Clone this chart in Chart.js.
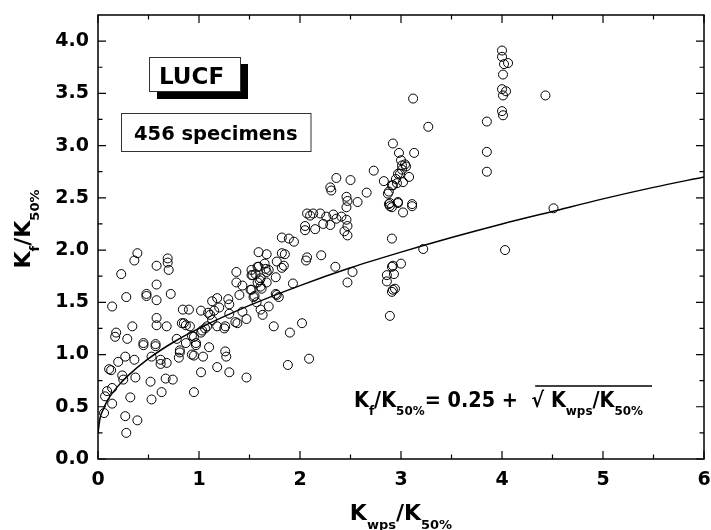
<!DOCTYPE html>
<html>
<head>
<meta charset="utf-8">
<script src="https://cdn.jsdelivr.net/npm/chart.js@4.4.0/dist/chart.umd.min.js"></script>
<style>
    html, body { margin: 0; padding: 0; background: #fff; }
    #wrap { width: 711px; height: 530px; }
</style>
</head>
<body>
<div id="wrap"><canvas id="kfChart" width="711" height="530"></canvas></div>
<script>
// specimen points [Kwps/K50%, Kf/K50%], grouped by x range
const lowRange = [
    [0.06,0.44],[0.07,0.60],[0.09,0.65],[0.14,0.68],[0.14,0.53],[0.11,0.86],[0.13,0.85],[0.20,0.93],
    [0.24,0.80],[0.25,0.76],[0.27,0.98],[0.36,0.95],[0.37,0.78],[0.32,0.59],[0.27,0.41],[0.39,0.37],
    [0.28,0.25],[0.14,1.46],[0.23,1.77],[0.36,1.90],[0.39,1.97],[0.28,1.55],[0.18,1.21],[0.17,1.17],
    [0.29,1.15],[0.34,1.27],[0.45,1.11],[0.45,1.09],[0.48,1.58],[0.48,1.56],[0.58,1.85],[0.69,1.92],
    [0.69,1.88],[0.70,1.81],[0.58,1.67],[0.58,1.52],[0.72,1.58],[0.58,1.35],[0.58,1.28],[0.68,1.27],
    [0.57,1.10],[0.57,1.08],[0.53,0.98],[0.62,0.95],[0.62,0.91],[0.68,0.92],[0.52,0.74],[0.67,0.77],
    [0.74,0.76],[0.63,0.64],[0.53,0.57],[0.78,1.15]
];
const midRange = [
    [0.81,1.04],[0.81,1.02],[0.80,0.97],[0.83,1.30],[0.85,1.30],[0.84,1.43],[0.90,1.43],[0.87,1.28],
    [0.91,1.27],[0.93,1.18],[0.95,1.17],[0.87,1.11],[0.93,1.00],[0.97,1.09],[0.97,1.11],[0.95,0.99],
    [0.95,0.64],[1.03,1.23],[1.02,1.21],[1.04,0.98],[1.02,0.83],[1.02,1.42],[1.09,1.40],[1.11,1.38],
    [1.08,1.27],[1.10,1.07],[1.13,1.51],[1.18,1.54],[1.15,1.42],[1.18,1.27],[1.18,0.88],[1.26,1.27],
    [1.25,1.25],[1.26,1.03],[1.27,0.98],[1.30,0.83],[1.29,1.53],[1.30,1.48],[1.30,1.39],[1.36,1.31],
    [1.38,1.30],[1.13,1.33],[1.20,1.45],[1.06,1.25]
];
const bandRange = [
    [1.37,1.79],[1.37,1.69],[1.40,1.57],[1.43,1.66],[1.43,1.41],[1.47,1.34],[1.47,0.78],[1.51,1.62],
    [1.52,1.81],[1.53,1.76],[1.58,1.84],[1.55,1.56],[1.57,1.50],[1.61,1.65],[1.61,1.43],[1.63,1.38],
    [1.67,1.69],[1.69,1.46],[1.67,1.79],[1.66,1.82],[1.74,1.27],[1.76,1.58],[1.79,1.55],[1.76,1.74],
    [1.82,1.83],[1.88,0.90],[1.90,1.21],[1.93,1.68],[2.02,1.30],[2.09,0.96],[1.59,1.98],[1.67,1.96],
    [1.82,1.97],[1.85,1.96],[1.65,1.87],[1.77,1.89],[1.84,1.85],[1.59,1.84],[1.69,1.81],[1.52,1.76],
    [1.61,1.73],[1.58,1.69],[1.52,1.62],[1.62,1.63],[1.54,1.55],[1.77,1.57],[1.82,2.12],[1.89,2.11],
    [1.94,2.08],[1.60,1.71],[1.56,1.77]
];
const upperRange = [
    [2.06,1.90],[2.07,1.93],[2.21,1.95],[2.35,1.84],[2.47,1.69],[2.52,1.79],[2.07,2.35],[2.13,2.35],
    [2.20,2.35],[2.26,2.32],[2.36,2.30],[2.46,2.29],[2.05,2.23],[2.05,2.19],[2.15,2.20],[2.23,2.25],
    [2.30,2.24],[2.47,2.23],[2.44,2.18],[2.47,2.14],[2.36,2.69],[2.50,2.67],[2.30,2.60],[2.31,2.57],
    [2.46,2.51],[2.47,2.47],[2.57,2.46],[2.46,2.41],[2.10,2.33],[2.33,2.34],[2.41,2.32]
];
const highRange = [
    [2.66,2.55],[2.73,2.76],[2.83,2.66],[2.87,2.54],[2.92,2.62],[2.99,2.73],[3.01,2.81],[2.89,2.45],
    [2.89,2.42],[2.97,2.45],[3.02,2.36],[2.91,2.11],[3.00,1.87],[2.91,1.84],[2.86,1.76],[2.86,1.70],
    [2.93,1.77],[2.92,1.62],[2.91,1.60],[2.89,1.37],[3.27,3.18],[3.12,3.45],[2.92,3.02],[2.98,2.93],
    [3.13,2.93],[3.00,2.86],[3.04,2.82],[3.01,2.77],[3.08,2.70],[2.97,2.73],[2.91,2.62],[2.96,2.64],
    [3.02,2.65],[2.88,2.56],[2.88,2.44],[2.91,2.41],[2.97,2.46],[3.11,2.44],[3.11,2.42],[3.22,2.01],
    [2.92,1.85],[2.94,1.63],[3.05,2.80],[2.95,2.68]
];
const farRange = [
    [3.85,3.23],[3.85,2.94],[3.85,2.75],[4.00,3.91],[4.00,3.85],[4.02,3.78],[4.06,3.79],[4.01,3.68],
    [4.00,3.54],[4.04,3.52],[4.01,3.48],[4.00,3.33],[4.01,3.29],[4.43,3.48],[4.51,2.40],[4.03,2.00]
];

// fitted curve Kf/K50% = 0.25 + sqrt(Kwps/K50%)
const fitX = [0, 0.02, 0.05, 0.1, 0.2, 0.3, 0.5, 0.75, 1, 1.5, 2, 2.5, 3, 3.5, 4, 4.5, 5, 5.5, 6];
const fitY = [0.25, 0.39, 0.47, 0.57, 0.70, 0.80, 0.96, 1.12, 1.25, 1.47, 1.66, 1.83, 1.98, 2.12, 2.25, 2.37, 2.49, 2.60, 2.70];

const FONT = '"DejaVu Sans", sans-serif';

const specimens = [].concat(lowRange, midRange, bandRange, upperRange, highRange, farRange)
    .map(p => ({ x: p[0], y: p[1] }));
const fitLine = fitX.map((x, i) => ({ x: x, y: fitY[i] }));

// draws a run of text with subscripts, returns its width
function richText(ctx, parts, mainFont, subFont, drop, draw) {
    let x = 0;
    parts.forEach(p => {
        ctx.font = p.sub ? subFont : mainFont;
        if (draw) ctx.fillText(p.t, x, p.sub ? drop : 0);
        x += ctx.measureText(p.t).width;
    });
    return x;
}

const decorPlugin = {
    id: 'decor',
    afterDraw(chart) {
        const ctx = chart.ctx;
        const a = chart.chartArea;
        const xs = chart.scales.x;
        const ys = chart.scales.y;

        ctx.save();
        ctx.strokeStyle = '#000';
        ctx.fillStyle = '#000';

        // frame
        ctx.lineWidth = 1.5;
        ctx.strokeRect(a.left, a.top, a.right - a.left, a.bottom - a.top);

        // inward ticks on all four sides
        ctx.lineWidth = 1.2;
        ctx.beginPath();
        const xt = xs.ticks.map(t => t.value);
        xt.forEach((v, i) => {
            const px = xs.getPixelForValue(v);
            ctx.moveTo(px, a.bottom); ctx.lineTo(px, a.bottom - 8);
            ctx.moveTo(px, a.top); ctx.lineTo(px, a.top + 8);
            if (i < xt.length - 1) {
                const mx = xs.getPixelForValue((v + xt[i + 1]) / 2);
                ctx.moveTo(mx, a.bottom); ctx.lineTo(mx, a.bottom - 4.5);
                ctx.moveTo(mx, a.top); ctx.lineTo(mx, a.top + 4.5);
            }
        });
        const yt = ys.ticks.map(t => t.value);
        yt.forEach((v, i) => {
            const py = ys.getPixelForValue(v);
            ctx.moveTo(a.left, py); ctx.lineTo(a.left + 8, py);
            ctx.moveTo(a.right, py); ctx.lineTo(a.right - 8, py);
            const next = i < yt.length - 1 ? yt[i + 1] : v + (v - yt[i - 1]);
            const mv = (v + next) / 2;
            if (mv < ys.max) {
                const my = ys.getPixelForValue(mv);
                ctx.moveTo(a.left, my); ctx.lineTo(a.left + 4.5, my);
                ctx.moveTo(a.right, my); ctx.lineTo(a.right - 4.5, my);
            }
        });
        ctx.stroke();

        const main = 'bold 22px ' + FONT;
        const sub = 'bold 13px ' + FONT;
        ctx.textBaseline = 'alphabetic';
        ctx.textAlign = 'left';

        // x axis title
        const xTitle = [{ t: 'K' }, { t: 'wps', sub: true }, { t: '/K' }, { t: '50%', sub: true }];
        const xw = richText(ctx, xTitle, main, sub, 9, false);
        ctx.save();
        ctx.translate((a.left + a.right) / 2 - xw / 2, 519.5);
        richText(ctx, xTitle, main, sub, 9, true);
        ctx.restore();

        // y axis title
        const yTitle = [{ t: 'K' }, { t: 'f', sub: true }, { t: '/K' }, { t: '50%', sub: true }];
        const yw = richText(ctx, yTitle, main, sub, 9, false);
        ctx.save();
        ctx.translate(29.5, 229 + yw / 2);
        ctx.rotate(-Math.PI / 2);
        richText(ctx, yTitle, main, sub, 9, true);
        ctx.restore();

        // LUCF box with drop shadow
        ctx.fillStyle = '#000';
        ctx.fillRect(157, 64, 91, 35);
        ctx.fillStyle = '#fff';
        ctx.fillRect(149.5, 57.5, 91, 34);
        ctx.lineWidth = 1;
        ctx.strokeStyle = '#333';
        ctx.strokeRect(149.5, 57.5, 91, 34);
        ctx.fillStyle = '#000';
        ctx.font = 'bold 23px ' + FONT;
        ctx.fillText('LUCF', 159, 83.5);

        // specimen count box
        ctx.fillStyle = '#fff';
        ctx.fillRect(121.5, 113.5, 189.5, 38);
        ctx.strokeRect(121.5, 113.5, 189.5, 38);
        ctx.fillStyle = '#000';
        ctx.font = 'bold 19.5px ' + FONT;
        ctx.fillText('456 specimens', 134, 140);

        // fit equation
        const fMain = 'bold 21px ' + FONT;
        const fSub = 'bold 13px ' + FONT;
        const head = [{ t: 'K' }, { t: 'f', sub: true }, { t: '/K' }, { t: '50%', sub: true }, { t: '= 0.25 +  ' }];
        const root = [{ t: '\u221A' }];
        const tail = [{ t: ' K' }, { t: 'wps', sub: true }, { t: '/K' }, { t: '50%', sub: true }];
        const hw = richText(ctx, head, fMain, fSub, 8, false);
        const rw = richText(ctx, root, fMain, fSub, 8, false);
        const tw = richText(ctx, tail, fMain, fSub, 8, false);
        const sx = (643 - 354) / (hw + rw + tw);
        ctx.save();
        ctx.translate(354, 406.7);
        ctx.scale(sx, 1);
        richText(ctx, head, fMain, fSub, 8, true);
        ctx.translate(hw, 0);
        richText(ctx, root, fMain, fSub, 8, true);
        ctx.translate(rw, 0);
        richText(ctx, tail, fMain, fSub, 8, true);
        ctx.restore();
        ctx.lineWidth = 1.5;
        ctx.strokeStyle = '#000';
        ctx.beginPath();
        ctx.moveTo(354 + (hw + rw * 0.3) * sx, 386);
        ctx.lineTo(652, 386);
        ctx.stroke();

        ctx.restore();
    }
};

const ctx = document.getElementById('kfChart').getContext('2d');
new Chart(ctx, {
    type: 'scatter',
    data: {
        datasets: [
            {
                label: 'specimens',
                data: specimens,
                pointStyle: 'circle',
                pointRadius: 4.5,
                pointHoverRadius: 4.5,
                borderWidth: 1,
                borderColor: '#000',
                backgroundColor: 'rgba(0,0,0,0)'
            },
            {
                label: 'fit',
                type: 'line',
                data: fitLine,
                showLine: true,
                borderColor: '#000',
                borderWidth: 1.5,
                pointRadius: 0,
                fill: false,
                cubicInterpolationMode: 'monotone'
            }
        ]
    },
    options: {
        responsive: false,
        animation: false,
        devicePixelRatio: 1,
        layout: { padding: { top: 15, right: 7, left: 0, bottom: 0 } },
        plugins: {
            legend: { display: false },
            tooltip: { enabled: false },
            title: { display: false }
        },
        scales: {
            x: {
                type: 'linear',
                min: 0,
                max: 6,
                grid: { display: false, drawTicks: false },
                border: { display: false },
                ticks: {
                    stepSize: 1,
                    padding: 10,
                    color: '#000',
                    font: { family: FONT, size: 19, weight: 'bold' },
                    maxRotation: 0
                },
                afterFit(scale) {
                    scale.height = 71;
                    scale.paddingLeft = 0;
                    scale.paddingRight = 0;
                }
            },
            y: {
                type: 'linear',
                min: 0,
                max: 4.25,
                grid: { display: false, drawTicks: false },
                border: { display: false },
                ticks: {
                    stepSize: 0.5,
                    includeBounds: false,
                    padding: 9,
                    color: '#000',
                    font: { family: FONT, size: 19, weight: 'bold' },
                    callback: v => v.toFixed(1)
                },
                afterFit(scale) {
                    scale.width = 98;
                    scale.paddingTop = 0;
                    scale.paddingBottom = 0;
                }
            }
        }
    },
    plugins: [decorPlugin]
});
</script>
</body>
</html>
